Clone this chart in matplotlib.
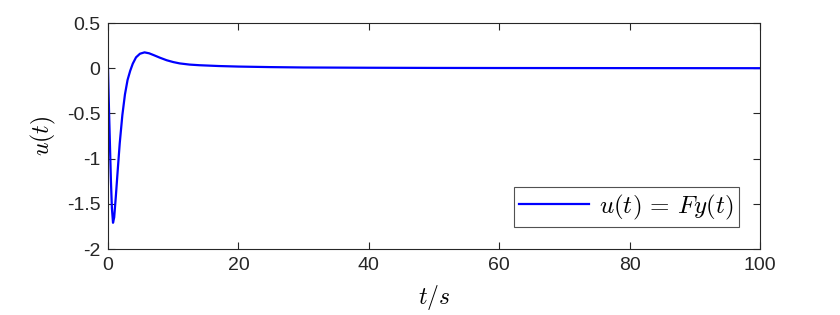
import numpy as np
import matplotlib
matplotlib.use("Agg")
import matplotlib.pyplot as plt

# values
t_vals = [0, 0.15, 0.3, 0.45, 0.6, 0.77, 0.95, 1.2, 1.5, 1.8, 2.2, 2.6, 3.0,
          3.4, 3.8, 4.3, 4.9, 5.6, 6.3, 7.0, 8.0, 9.0, 10.0, 11.0, 12.5, 14.0,
          17.0, 20.0, 25, 30, 40, 50, 60, 80, 100]
u_vals = [0, -0.45, -0.85, -1.25, -1.55, -1.71, -1.65, -1.42, -1.12, -0.83,
          -0.52, -0.29, -0.13, -0.03, 0.05, 0.12, 0.16, 0.175, 0.165, 0.145,
          0.115, 0.088, 0.068, 0.053, 0.04, 0.033, 0.024, 0.018, 0.012, 0.008,
          0.005, 0.003, 0.002, 0.001, 0.0]
x_ticks = [0, 20, 40, 60, 80, 100]
y_ticks = [-2, -1.5, -1, -0.5, 0, 0.5]
y_ticklabels = ["-2", "-1.5", "-1", "-0.5", "0", "0.5"]

plt.rcParams["font.family"] = ["Liberation Sans", "DejaVu Sans"]
plt.rcParams["mathtext.fontset"] = "cm"

fig = plt.figure(figsize=(8.4, 3.15), dpi=100)
ax = fig.add_axes([108 / 840, 1 - 249 / 315, 652 / 840, 226 / 315])

ax.plot(t_vals, u_vals, color=(0, 0, 1), lw=1.6, label=r"$u(t)\,=\,Fy(t)$")
ax.set_xlim(0, 100)
ax.set_ylim(-2, 0.5)
ax.set_xticks(x_ticks)
ax.set_yticks(y_ticks)
ax.set_yticklabels(y_ticklabels)

edge = (0.15, 0.15, 0.15)
for sp in ax.spines.values():
    sp.set_color(edge)
    sp.set_linewidth(0.8)
ax.tick_params(direction="in", top=True, right=True, length=5, width=0.8,
               colors=edge, labelsize=14, pad=5.5)

ax.set_xlabel(r"$t/s$", fontsize=17, labelpad=7)
ax.set_ylabel(r"$u(t)$", fontsize=17, labelpad=6)

leg = ax.legend(loc="lower right", fontsize=18, frameon=True, fancybox=False,
                borderpad=0.22, borderaxespad=0, handlelength=2.8,
                handletextpad=0.4, bbox_to_anchor=(0.968, 0.097))
leg.get_frame().set_edgecolor(edge)
leg.get_frame().set_linewidth(0.8)

fig.savefig("out.png", dpi=100)
